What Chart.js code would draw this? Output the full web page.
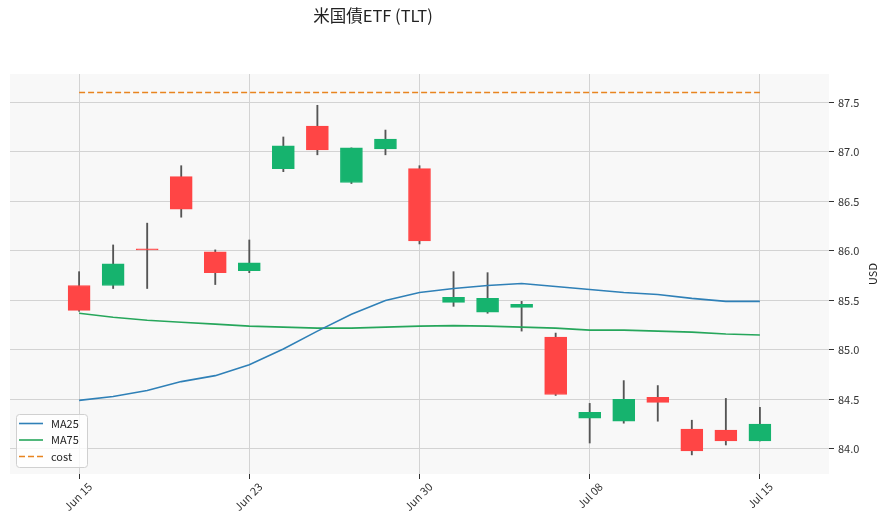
<!DOCTYPE html>
<html>
<head>
<meta charset="utf-8">
<script src="https://cdn.jsdelivr.net/npm/chart.js@4.4.1/dist/chart.umd.min.js"></script>
<style>
  html, body { margin: 0; padding: 0; background: #fff; }
  #wrap { width: 886px; height: 523px; position: relative; }
</style>
</head>
<body>
<div id="wrap"><canvas id="chart" width="886" height="523"></canvas></div>
<script>
// =============== Data ===============
const dates = ['Jun 15', 'Jun 16', 'Jun 17', 'Jun 18', 'Jun 22', 'Jun 23', 'Jun 24',
  'Jun 25', 'Jun 26', 'Jun 29', 'Jun 30', 'Jul 01', 'Jul 02', 'Jul 03', 'Jul 07',
  'Jul 08', 'Jul 09', 'Jul 10', 'Jul 11', 'Jul 14', 'Jul 15'];
const opens  = [85.65, 85.65, 86.02, 86.75, 85.99, 85.80, 86.83, 87.26, 86.69, 87.03, 86.83,
  85.48, 85.38, 85.43, 85.13, 84.31, 84.28, 84.52, 84.20, 84.19, 84.08];
const highs  = [85.79, 86.06, 86.28, 86.86, 86.01, 86.11, 87.15, 87.47, 87.04, 87.22, 86.86,
  85.79, 85.78, 85.49, 85.17, 84.46, 84.69, 84.64, 84.29, 84.51, 84.42];
const lows   = [85.39, 85.62, 85.62, 86.34, 85.66, 85.78, 86.80, 86.97, 86.68, 86.97, 86.07,
  85.44, 85.37, 85.19, 84.54, 84.06, 84.26, 84.28, 83.94, 84.04, 84.08];
const closes = [85.40, 85.87, 86.01, 86.42, 85.78, 85.88, 87.06, 87.02, 87.04, 87.13, 86.10,
  85.53, 85.52, 85.46, 84.55, 84.37, 84.50, 84.47, 83.98, 84.08, 84.25];
const ma25 = [84.49, 84.53, 84.59, 84.68, 84.74, 84.85, 85.01, 85.19, 85.36, 85.50, 85.58,
  85.62, 85.65, 85.67, 85.64, 85.61, 85.58, 85.56, 85.52, 85.49, 85.49];
const ma75 = [85.37, 85.33, 85.30, 85.28, 85.26, 85.24, 85.23, 85.22, 85.22, 85.23, 85.24,
  85.245, 85.24, 85.23, 85.22, 85.20, 85.20, 85.19, 85.18, 85.16, 85.15];
const costPrice = 87.6;
const yTicks = [84.0, 84.5, 85.0, 85.5, 86.0, 86.5, 87.0, 87.5];
const xTickIdx = [0, 5, 10, 15, 20];

// =============== Styles ===============
const UP = '#16b36e';
const DOWN = '#ff4545';
const GRID = '#d3d3d3';
const FONT = "'Noto Sans CJK JP', 'Noto Sans', sans-serif";

const candleColors = opens.map((o, i) => (closes[i] >= o ? UP : DOWN));

// ===== Plugins =====
const backgroundPlugin = {
  id: 'plotBg',
  beforeDraw(chart) {
    const { ctx, chartArea: a } = chart;
    ctx.save();
    ctx.fillStyle = '#fff';
    ctx.fillRect(0, 0, chart.width, chart.height);
    ctx.fillStyle = '#f8f8f8';
    ctx.fillRect(a.left, a.top, a.right - a.left, a.bottom - a.top);
    ctx.restore();
  },
};

const textPlugin = {
  id: 'texts',
  afterDraw(chart) {
    const { ctx, chartArea: a } = chart;
    ctx.save();
    // Title
    ctx.fillStyle = '#222';
    ctx.font = `16.5px ${FONT}`;
    ctx.textAlign = 'center';
    ctx.textBaseline = 'middle';
    ctx.fillText('米国債ETF (TLT)', 373, 16);
    // Y axis label
    ctx.font = `11px ${FONT}`;
    ctx.translate(873, (a.top + a.bottom) / 2);
    ctx.rotate(-Math.PI / 2);
    ctx.fillText('USD', 0, 0);
    ctx.restore();
  },
};

const legendPlugin = {
  id: 'innerLegend',
  afterDraw(chart) {
    const { ctx, chartArea: a } = chart;
    const items = chart.data.datasets.filter((d) => d.type === 'line');
    const bx = a.left + 6, by = a.bottom - 60, bw = 71, bh = 53;
    ctx.save();
    ctx.fillStyle = 'rgba(255,255,255,0.8)';
    ctx.strokeStyle = '#d0d0d0';
    ctx.lineWidth = 1;
    ctx.beginPath();
    if (ctx.roundRect) ctx.roundRect(bx + 0.5, by + 0.5, bw, bh, 3);
    else ctx.rect(bx + 0.5, by + 0.5, bw, bh);
    ctx.fill();
    ctx.stroke();
    ctx.font = `11px ${FONT}`;
    ctx.textBaseline = 'middle';
    ctx.textAlign = 'left';
    items.forEach((d, i) => {
      const y = by + 9.5 + i * 16.5;
      ctx.strokeStyle = d.borderColor;
      ctx.lineWidth = 1.6;
      ctx.setLineDash(d.borderDash || []);
      ctx.beginPath();
      ctx.moveTo(bx + 3, y);
      ctx.lineTo(bx + 27, y);
      ctx.stroke();
      ctx.setLineDash([]);
      ctx.fillStyle = '#222';
      ctx.fillText(d.label, bx + 35, y);
    });
    ctx.restore();
  },
};

// ===== Chart =====
const ctx = document.getElementById('chart').getContext('2d');
new Chart(ctx, {
  type: 'bar',
  data: {
    datasets: [
      {
        type: 'line',
        label: 'MA25',
        data: ma25.map((v, i) => ({ x: i, y: v })),
        borderColor: '#2f80b7',
        borderWidth: 1.6,
        pointRadius: 0,
        tension: 0,
        order: 1,
      },
      {
        type: 'line',
        label: 'MA75',
        data: ma75.map((v, i) => ({ x: i, y: v })),
        borderColor: '#26a65b',
        borderWidth: 1.6,
        pointRadius: 0,
        tension: 0,
        order: 1,
      },
      {
        type: 'line',
        label: 'cost',
        data: [{ x: 0, y: costPrice }, { x: dates.length - 1, y: costPrice }],
        borderColor: '#e8841f',
        borderWidth: 1.5,
        borderDash: [6, 3],
        pointRadius: 0,
        order: 1,
      },
      {
        label: 'body',
        data: opens.map((o, i) => ({ x: i, y: [o, closes[i]] })),
        backgroundColor: candleColors,
        borderColor: candleColors,
        borderWidth: 1,
        borderSkipped: false,
        barThickness: 22,
        grouped: false,
        order: 2,
      },
      {
        label: 'wick',
        data: lows.map((l, i) => ({ x: i, y: [l, highs[i]] })),
        backgroundColor: '#555',
        barThickness: 1.2,
        grouped: false,
        order: 3,
      },
    ],
  },
  options: {
    responsive: false,
    animation: false,
    layout: { padding: { left: 10, top: 74, right: 0, bottom: 0 } },
    plugins: {
      legend: { display: false },
      title: { display: false },
      tooltip: { enabled: false },
    },
    scales: {
      x: {
        type: 'linear',
        min: -2.03,
        max: 22.03,
        offset: false,
        border: { display: false },
        grid: { color: GRID, offset: false, tickLength: 5, tickColor: '#333' },
        afterBuildTicks: (s) => { s.ticks = xTickIdx.map((v) => ({ value: v })); },
        afterFit: (s) => { s.height = 49; },
        ticks: {
          callback: (v) => dates[v],
          minRotation: 45,
          maxRotation: 45,
          labelOffset: 11,
          color: '#333',
          font: { family: FONT, size: 11 },
          padding: 1,
        },
      },
      y: {
        position: 'right',
        min: 83.747,
        max: 87.786,
        border: { display: false },
        grid: { color: GRID, tickLength: 5, tickColor: '#333' },
        afterBuildTicks: (s) => { s.ticks = yTicks.map((v) => ({ value: v })); },
        afterFit: (s) => { s.width = 57; },
        ticks: {
          callback: (v) => v.toFixed(1),
          color: '#333',
          font: { family: FONT, size: 11 },
          padding: 4,
        },
      },
    },
  },
  plugins: [backgroundPlugin, textPlugin, legendPlugin],
});
</script>
</body>
</html>
